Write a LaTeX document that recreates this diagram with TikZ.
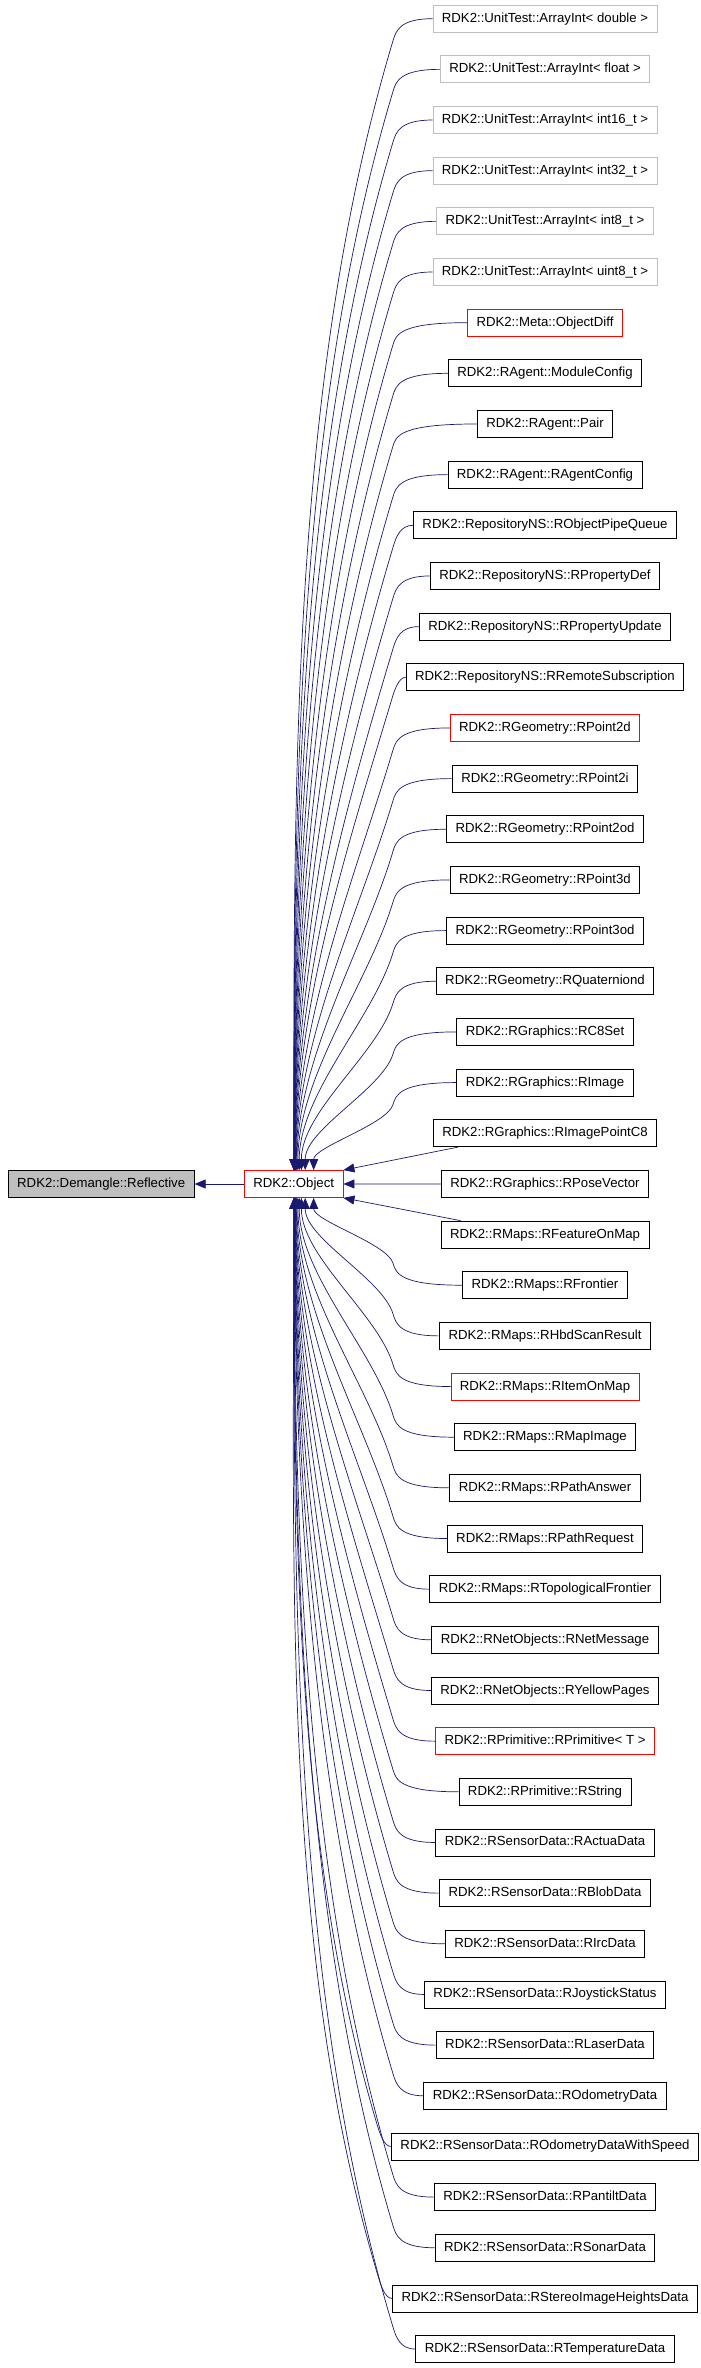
\documentclass[tikz,border=0pt]{standalone}
\usepackage{fontspec}
\setmainfont{Liberation Sans}
\usetikzlibrary{arrows.meta, calc}
\definecolor{edgeblue}{RGB}{25,25,112}
\definecolor{undocgray}{RGB}{191,191,191}

\begin{document}
\begin{tikzpicture}[x=1pt, y=-1pt,
  every node/.style={font=\fontsize{13.2}{15}\selectfont},
  cls/.style={draw, inner xsep=9pt, inner ysep=0pt, minimum height=27pt,
    text height=9.6pt, text depth=2.6pt, line width=0.8pt},
  inherit/.style={draw=edgeblue, line width=0.7pt,
    -{Triangle[length=11pt, width=9pt]}, edgeblue}]
  \useasboundingbox (0,0) rectangle (701,2368);

  % base classes
  \node[cls, fill=undocgray] (reflective) at (101.2,1184) {RDK2::Demangle::Reflective};
  \node[cls, draw=red] (object) at (293.7,1184) {RDK2::Object};
  \draw[inherit] (object) -- (reflective);

  % derived classes, one per rank row
  \foreach \txt/\col [count=\i] in {
    RDK2::UnitTest::ArrayInt< double >/undocgray,
    RDK2::UnitTest::ArrayInt< float >/undocgray,
    RDK2::UnitTest::ArrayInt< int16\_t >/undocgray,
    RDK2::UnitTest::ArrayInt< int32\_t >/undocgray,
    RDK2::UnitTest::ArrayInt< int8\_t >/undocgray,
    RDK2::UnitTest::ArrayInt< uint8\_t >/undocgray,
    RDK2::Meta::ObjectDiff/red,
    RDK2::RAgent::ModuleConfig/black,
    RDK2::RAgent::Pair/black,
    RDK2::RAgent::RAgentConfig/black,
    RDK2::RepositoryNS::RObjectPipeQueue/black,
    RDK2::RepositoryNS::RPropertyDef/black,
    RDK2::RepositoryNS::RPropertyUpdate/black,
    RDK2::RepositoryNS::RRemoteSubscription/black,
    RDK2::RGeometry::RPoint2d/red,
    RDK2::RGeometry::RPoint2i/black,
    RDK2::RGeometry::RPoint2od/black,
    RDK2::RGeometry::RPoint3d/black,
    RDK2::RGeometry::RPoint3od/black,
    RDK2::RGeometry::RQuaterniond/black,
    RDK2::RGraphics::RC8Set/black,
    RDK2::RGraphics::RImage/black,
    RDK2::RGraphics::RImagePointC8/black,
    RDK2::RGraphics::RPoseVector/black,
    RDK2::RMaps::RFeatureOnMap/black,
    RDK2::RMaps::RFrontier/black,
    RDK2::RMaps::RHbdScanResult/black,
    RDK2::RMaps::RItemOnMap/red,
    RDK2::RMaps::RMapImage/black,
    RDK2::RMaps::RPathAnswer/black,
    RDK2::RMaps::RPathRequest/black,
    RDK2::RMaps::RTopologicalFrontier/black,
    RDK2::RNetObjects::RNetMessage/black,
    RDK2::RNetObjects::RYellowPages/black,
    RDK2::RPrimitive::RPrimitive< T >/red,
    RDK2::RPrimitive::RString/black,
    RDK2::RSensorData::RActuaData/black,
    RDK2::RSensorData::RBlobData/black,
    RDK2::RSensorData::RIrcData/black,
    RDK2::RSensorData::RJoystickStatus/black,
    RDK2::RSensorData::RLaserData/black,
    RDK2::RSensorData::ROdometryData/black,
    RDK2::RSensorData::ROdometryDataWithSpeed/black,
    RDK2::RSensorData::RPantiltData/black,
    RDK2::RSensorData::RSonarData/black,
    RDK2::RSensorData::RStereoImageHeightsData/black,
    RDK2::RSensorData::RTemperatureData/black}{
    \node[cls, draw=\col] (c\i) at (545, {18.7+(\i-1)*50.66}) {\txt};
  }

  % inheritance edges: bend near x=393, then fan into object
  \foreach \i in {1,...,47}{
    \pgfmathtruncatemacro\kk{abs(24-\i)}
    \ifnum\kk>1
      \ifnum\i<24 \def\side{north west}\def\updown{1}\else\def\side{south west}\def\updown{-1}\fi
      \pgfmathsetmacro\yy{18.7+(\i-1)*50.66}
      \pgfmathsetmacro\yb{\yy+12*\updown}
      \pgfmathsetmacro\ym{\yy+22*\updown}
      \pgfmathsetmacro\ll{abs(1184-13.5*\updown-\ym)}
      \pgfmathsetmacro\cyb{0.35*\ll*\updown}
      \pgfmathsetmacro\ddx{49+51/(\kk^1.3)}
      \draw[inherit] let \p1=(c\i.west), \n1={min(393pt,\x1-14pt)} in
        (c\i.west) .. controls (\n1+7pt,\yy) and (\n1+3pt,\yb) .. (\n1,\ym)
        .. controls (\n1-0.09*\ll pt,\ym+0.3*\ll*\updown) and ([xshift=\ddx pt, yshift=\cyb pt]object.\side)
        .. ([xshift=\ddx pt]object.\side);
    \fi
  }
  \draw[inherit] ([xshift=25pt]c23.south west) -- (object.north east);
  \draw[inherit] (c24) -- (object);
  \draw[inherit] ([xshift=20pt]c25.north west) -- (object.south east);
\end{tikzpicture}
\end{document}
